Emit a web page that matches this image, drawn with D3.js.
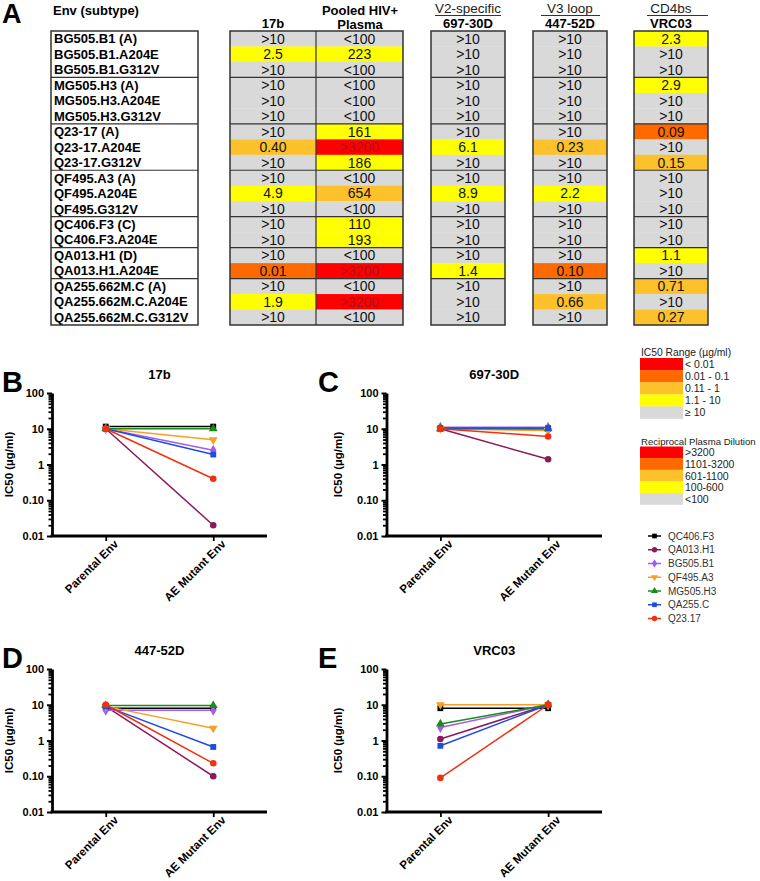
<!DOCTYPE html>
<html><head><meta charset="utf-8">
<script src="https://cdn.jsdelivr.net/npm/d3@7"></script>
<style>body{margin:0;background:#fff} svg{display:block;font-family:"Liberation Sans",Arial,sans-serif}</style>
</head><body><svg id="c" width="760" height="881"></svg>
<script>
// ---------- DATA ----------
const envNames = ["BG505.B1 (A)","BG505.B1.A204E","BG505.B1.G312V","MG505.H3 (A)","MG505.H3.A204E","MG505.H3.G312V",
  "Q23-17 (A)","Q23-17.A204E","Q23-17.G312V","QF495.A3 (A)","QF495.A204E","QF495.G312V",
  "QC406.F3 (C)","QC406.F3.A204E","QA013.H1 (D)","QA013.H1.A204E","QA255.662M.C (A)","QA255.662M.C.A204E","QA255.662M.C.G312V"];
const groupSizes = [3,3,3,3,2,2,3];
const ic50_17b  = [">10","2.5",">10",">10",">10",">10",">10","0.40",">10",">10","4.9",">10",">10",">10",">10","0.01",">10","1.9",">10"];
const plasmaDil = ["<100","223","<100","<100","<100","<100","161",">3200","186","<100","654","<100","110","193","<100",">3200","<100",">3200","<100"];
const ic50_697  = [">10",">10",">10",">10",">10",">10",">10","6.1",">10",">10","8.9",">10",">10",">10",">10","1.4",">10",">10",">10"];
const ic50_447  = [">10",">10",">10",">10",">10",">10",">10","0.23",">10",">10","2.2",">10",">10",">10",">10","0.10",">10","0.66",">10"];
const ic50_vrc03= ["2.3",">10",">10","2.9",">10",">10","0.09",">10","0.15",">10",">10",">10",">10",">10","1.1",">10","0.71",">10","0.27"];

const ic50Legend = ["< 0.01","0.01 - 0.1","0.11 - 1","1.1 - 10","≥ 10"];
const plasmaLegend = [">3200","1101-3200","601-1100","100-600","<100"];

const seriesNames = ["QC406.F3","QA013.H1","BG505.B1","QF495.A3","MG505.H3","QA255.C","Q23.17"];
const xCats = ["Parental Env","AE Mutant Env"];
const yTickVals = [0.01,0.1,1,10,100];
const yTickLabels = ["0.01","0.10","1","10","100"];
// [parental, mutant] per series, in seriesNames order
const panel17b  = [[11.5,11.5],[10,0.02],[10,2.5],[10,4.9],[10,10],[10,1.9],[10,0.40]];
const panel697  = [[10,10],[10,1.4],[11,11],[10,8.9],[10,10],[10.5,10.5],[10,6.1]];
const panel447  = [[8,8],[9,0.10],[7,7],[9,2.2],[9.5,9.5],[9,0.66],[10,0.23]];
const panelVRC  = [[8,8],[1.1,10],[2.3,10],[10,10],[2.9,10],[0.71,10],[0.09,10]];

// ---------- STYLE ----------
const C_RED="#ff0000", C_ORG="#ff6a00", C_LOR="#fcc12b", C_YEL="#ffff00", C_GRY="#d9d9d9";
const seriesColors = ["#000000","#8b1a5c","#a35cf0","#f5a02a","#1a8a1a","#1f4ce0","#f0300f"];
const seriesSymbols = ["square","circle","diamond","down","up","square","circle"];

const svg = d3.select("#c");
const ic50Color = d3.scaleThreshold().domain([0.01,0.105,1.05,10]).range([C_RED,C_ORG,C_LOR,C_YEL,C_GRY]);
const plasmaColor = d3.scaleThreshold().domain([100,600.5,1100.5,3200.5]).range([C_GRY,C_YEL,C_LOR,C_ORG,C_RED]);
const parseVal = v => v.startsWith(">") ? Infinity : v.startsWith("<") ? 0 : +v;

// ---------- TABLE ----------
const rowY = d3.scaleBand().domain(d3.range(envNames.length)).range([31,325]);
const bh = rowY.bandwidth();
svg.append("text").attr("x",2).attr("y",23).attr("font-size",27).attr("font-weight","bold").text("A");
svg.append("text").attr("x",53).attr("y",15).attr("font-size",13).attr("font-weight","bold").text("Env (subtype)");

const cols = [
  {vals:ic50_17b, x0:230, x1:316, col:ic50Color},
  {vals:plasmaDil, x0:316, x1:403, col:plasmaColor},
  {vals:ic50_697, x0:431, x1:505, col:ic50Color},
  {vals:ic50_447, x0:533, x1:607, col:ic50Color},
  {vals:ic50_vrc03, x0:634, x1:708, col:ic50Color}
];
cols.forEach(c=>{
  const g = svg.append("g");
  g.selectAll("rect").data(c.vals).join("rect")
    .attr("x",c.x0).attr("width",c.x1-c.x0).attr("y",(d,i)=>rowY(i)).attr("height",bh+0.3)
    .attr("fill",d=>c.col(parseVal(d)));
  g.selectAll("text").data(c.vals).join("text")
    .attr("x",(c.x0+c.x1)/2).attr("y",(d,i)=>rowY(i)+bh/2+5).attr("text-anchor","middle")
    .attr("font-size",14).attr("fill",d=>c.col(parseVal(d))===C_RED?"#b01010":"#111").text(d=>d);
});
svg.append("g").selectAll("text").data(envNames).join("text")
  .attr("x",54).attr("y",(d,i)=>rowY(i)+bh/2+4.6).attr("font-size",13).attr("font-weight","bold").text(d=>d);

const boxes = [[51,198],[230,403],[431,505],[533,607],[634,708]];
const sepRows = d3.cumsum(groupSizes).slice(0,-1);
boxes.forEach(([a,b])=>{
  svg.append("rect").attr("x",a).attr("y",31).attr("width",b-a).attr("height",325-31)
    .attr("fill","none").attr("stroke","#333").attr("stroke-width",1.5);
  svg.append("g").selectAll("line").data(sepRows).join("line")
    .attr("x1",a).attr("x2",b).attr("y1",d=>rowY(d)).attr("y2",d=>rowY(d))
    .attr("stroke","#333").attr("stroke-width",1.2);
});
svg.append("line").attr("x1",316).attr("x2",316).attr("y1",31).attr("y2",325).attr("stroke","#333").attr("stroke-width",1.2);

// headers
const hb = (x,y,t)=>svg.append("text").attr("x",x).attr("y",y).attr("text-anchor","middle").attr("font-size",13).attr("font-weight","bold").text(t);
const hn = (x,y,t,l0,l1)=>{svg.append("text").attr("x",x).attr("y",y).attr("text-anchor","middle").attr("font-size",13.5).attr("fill","#222").text(t);
  svg.append("line").attr("x1",l0).attr("x2",l1).attr("y1",y+2.5).attr("y2",y+2.5).attr("stroke","#333").attr("stroke-width",1);};
hb(273,28,"17b"); hb(360,15,"Pooled HIV+"); hb(360,28.5,"Plasma");
hn(468,13,"V2-specific",435,501); hb(468,28,"697-30D");
hn(570,13,"V3 loop",541,600); hb(570,28,"447-52D");
hn(671,13,"CD4bs",647,708); hb(671,28,"VRC03");

// ---------- LEGENDS ----------
function swatchLegend(tx,ty,title,titleSize,cols,labels,top,h){
  svg.append("text").attr("x",tx).attr("y",ty).attr("font-size",titleSize).attr("fill","#222").text(title);
  const g = svg.append("g");
  g.selectAll("rect").data(cols).join("rect").attr("x",640).attr("width",43).attr("y",(d,i)=>top+i*h).attr("height",h+0.3).attr("fill",d=>d);
  g.selectAll("text").data(labels).join("text").attr("x",685).attr("y",(d,i)=>top+i*h+h/2+4).attr("font-size",10.5).attr("fill","#222").text(d=>d);
}
swatchLegend(641,356,"IC50 Range (µg/ml)",10.3,[C_RED,C_ORG,C_LOR,C_YEL,C_GRY],ic50Legend,358,12.1);
swatchLegend(641,445,"Reciprocal Plasma Dilution",9.6,[C_RED,C_ORG,C_LOR,C_YEL,C_GRY],plasmaLegend,446.5,11.6);

function symPath(s,size){
  const t = {square:d3.symbolSquare,circle:d3.symbolCircle,diamond:d3.symbolDiamond,up:d3.symbolTriangle,down:d3.symbolTriangle}[s];
  return d3.symbol().type(t).size(size)();
}
const lg = svg.append("g");
seriesNames.forEach((n,i)=>{
  const y = 536 + i*13.75;
  lg.append("line").attr("x1",648).attr("x2",661).attr("y1",y).attr("y2",y).attr("stroke",seriesColors[i]).attr("stroke-width",1.5);
  lg.append("path").attr("d",symPath(seriesSymbols[i],22)).attr("fill",seriesColors[i])
    .attr("transform",`translate(654.5,${y})${seriesSymbols[i]==="down"?" rotate(180)":""}`);
  lg.append("text").attr("x",668).attr("y",y+3.7).attr("font-size",10).attr("fill","#333").text(n);
});

// ---------- PANELS ----------
function panel(letter,title,data,x0,x1,yt,yb,letterX,labX){
  const g = svg.append("g");
  const y = d3.scaleLog().domain([0.01,100]).range([yb,yt]);
  const x = d3.scalePoint().domain(xCats).range([x0,x1]).padding(0.5);
  g.append("text").attr("x",letterX).attr("y",yt-1).attr("font-size",29).attr("font-weight","bold").text(letter);
  g.append("text").attr("x",(x0+x1)/2).attr("y",yt-14).attr("text-anchor","middle").attr("font-size",13).attr("font-weight","bold").text(title);
  g.append("text").attr("transform",`translate(${labX},${(yt+yb)/2}) rotate(-90)`).attr("text-anchor","middle")
    .attr("font-size",11.5).attr("font-weight","bold").text("IC50 (µg/ml)");
  const minor=[]; [-2,-1,0,1].forEach(k=>{for(let m=2;m<=9;m++) minor.push(m*Math.pow(10,k));});
  const ym = g.append("g").attr("transform",`translate(${x0},0)`).call(d3.axisLeft(y).tickValues(minor).tickSize(3.5).tickSizeOuter(0).tickFormat(""));
  ym.select(".domain").remove(); ym.selectAll("line").attr("stroke-width",1.8);
  const ya = g.append("g").attr("transform",`translate(${x0},0)`)
    .call(d3.axisLeft(y).tickValues(yTickVals).tickFormat((d,i)=>yTickLabels[i]).tickSize(5).tickSizeOuter(0));
  ya.select(".domain").attr("stroke-width",2.8);
  ya.selectAll("line").attr("stroke-width",2);
  ya.selectAll("text").attr("font-size",11).attr("font-weight","bold").attr("fill","#000").attr("font-family","Liberation Sans, Arial, sans-serif");
  const xa = g.append("g").attr("transform",`translate(0,${yb})`).call(d3.axisBottom(x).tickSize(5).tickSizeOuter(0));
  xa.select(".domain").attr("stroke-width",2.8).attr("d",`M${x0-1.4},0H${x1}`);
  xa.selectAll("line").attr("stroke-width",1.8);
  xa.selectAll("text").attr("font-size",11.5).attr("font-weight","bold").attr("fill","#000")
    .attr("font-family","Liberation Sans, Arial, sans-serif")
    .attr("text-anchor","end").attr("transform","translate(4,0) rotate(-45)").attr("dx",0).attr("dy","0.9em").attr("y",2);
  data.forEach((d,i)=>{
    const pts = d.map((v,j)=>[x(xCats[j]),y(v)]);
    g.append("path").attr("d",d3.line()(pts)).attr("fill","none").attr("stroke",seriesColors[i]).attr("stroke-width",1.5);
  });
  data.forEach((d,i)=>{
    d.forEach((v,j)=>{
      g.append("path").attr("d",symPath(seriesSymbols[i],34)).attr("fill",seriesColors[i])
        .attr("transform",`translate(${x(xCats[j])},${y(v)})${seriesSymbols[i]==="down"?" rotate(180)":""}`);
    });
  });
}
panel("B","17b",panel17b,52,267,393,536,2,13);
panel("C","697-30D",panel697,386.5,602,393,536,318,342);
panel("D","447-52D",panel447,52,267,669,812,2,13);
panel("E","VRC03",panelVRC,386.5,602,669,812,318,342);
</script></body></html>
